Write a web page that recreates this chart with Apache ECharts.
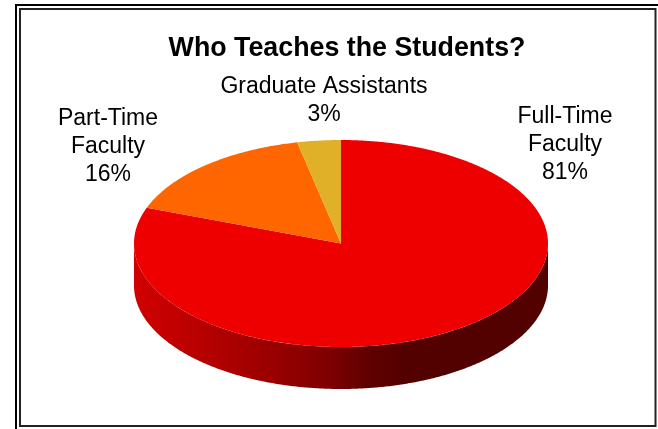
<!DOCTYPE html>
<html>
<head>
<meta charset="utf-8">
<style>
  html, body { margin: 0; padding: 0; background: #fff; }
  #chart { width: 658px; height: 429px; }
</style>
</head>
<body>
<div id="chart"></div>
<script src="https://cdn.jsdelivr.net/npm/echarts@6/dist/echarts.min.js"></script>
<script>
const titleText = 'Who Teaches the Students?'
const categories = ['Full-Time\nFaculty', 'Part-Time\nFaculty', 'Graduate Assistants']
const shares = [80.6, 16, 3.4]
const sliceColors = ['#ee0000', '#ff6600', '#e0b028']

// pie geometry, pretend-3d
const cx = 341, cy = 243.5, rx = 207, ry = 103.5, depth = 42
const labelPos = [[565, 145], [108, 147], [324, 101]]
const total = shares.reduce((a, b) => a + b, 0)

const ellipsePoint = (deg, dy = 0) => {
  const t = deg * Math.PI / 180
  return [cx + rx * Math.sin(t), cy - ry * Math.cos(t) + dy]
}

const arcPoints = (from, to, dy = 0) => {
  const pts = []
  const n = Math.max(2, Math.ceil((to - from) / 0.5))
  for (let i = 0; i <= n; i++) pts.push(ellipsePoint(from + (to - from) * i / n, dy))
  return pts
}

const wallGradient = new echarts.graphic.LinearGradient(cx - rx, 0, cx + rx, 0, [
  { offset: 0, color: '#d00000' },
  { offset: 0.16, color: '#b80000' },
  { offset: 0.33, color: '#9a0000' },
  { offset: 0.47, color: '#7e0000' },
  { offset: 0.57, color: '#600000' },
  { offset: 0.67, color: '#520000' },
  { offset: 1, color: '#520000' }
], true)

const renderSlice = (params, api) => {
  const i = params.dataIndex
  const before = shares.slice(0, i).reduce((a, b) => a + b, 0)
  const start = before / total * 360
  const end = (before + api.value(0)) / total * 360
  const children = []

  // only the front half of the rim shows
  const wallFrom = Math.max(start, 90), wallTo = Math.min(end, 270)
  if (wallTo > wallFrom) {
    children.push({
      type: 'polygon',
      shape: { points: arcPoints(wallFrom, wallTo).concat(arcPoints(wallFrom, wallTo, depth).reverse()) },
      style: { fill: wallGradient }
    })
  }
  children.push({
    type: 'polygon',
    shape: { points: [[cx, cy]].concat(arcPoints(start, end)) },
    style: { fill: sliceColors[i] }
  })
  children.push({
    type: 'text',
    x: labelPos[i][0],
    y: labelPos[i][1],
    style: {
      text: categories[i] + '\n' + Math.round(api.value(0)) + '%',
      font: '23px "Liberation Sans", Arial, sans-serif',
      fill: '#000',
      align: 'center',
      verticalAlign: 'middle',
      lineHeight: 28
    }
  })
  return { type: 'group', children }
}

const chart = echarts.init(document.getElementById('chart'), null, { renderer: 'canvas' })
chart.setOption({
  animation: false,
  backgroundColor: '#fff',
  title: {
    text: titleText,
    left: 342,
    top: 30.5,
    textAlign: 'center',
    textStyle: { fontFamily: '"Liberation Sans", Arial, sans-serif', fontSize: 26.8, fontWeight: 'bold', color: '#000' }
  },
  graphic: [
    { type: 'rect', shape: { x: 16, y: 5, width: 660, height: 440 }, style: { fill: 'none', stroke: '#000', lineWidth: 2 }, silent: true },
    { type: 'rect', shape: { x: 20, y: 9, width: 635.5, height: 417 }, style: { fill: 'none', stroke: '#222', lineWidth: 2 }, silent: true }
  ],
  series: [{
    type: 'custom',
    coordinateSystem: 'none',
    silent: true,
    data: shares,
    renderItem: renderSlice
  }]
})
</script>
</body>
</html>
